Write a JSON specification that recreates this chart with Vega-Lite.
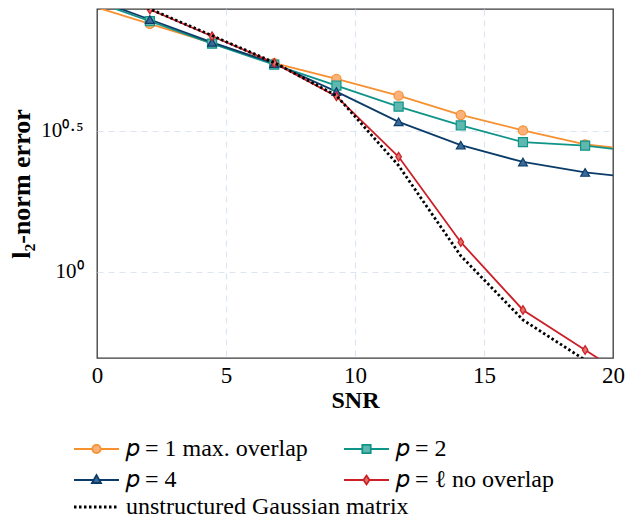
{
  "$schema": "https://vega.github.io/schema/vega-lite/v6.json",
  "width": 516,
  "height": 349,
  "autosize": "none",
  "padding": {"left": 97, "top": 9, "right": 24, "bottom": 161},
  "config": {
    "font": "Liberation Serif",
    "view": {"stroke": "#3a3a3a", "strokeWidth": 1.3},
    "axis": {
      "labelFont": "Liberation Serif",
      "labelColor": "#000",
      "titleFont": "Liberation Serif",
      "titleFontWeight": "bold",
      "titleColor": "#000",
      "ticks": false,
      "domain": false,
      "grid": true,
      "gridDash": [6, 5],
      "gridWidth": 1.2
    },
    "legend": {
      "labelFont": "Liberation Serif",
      "labelFontSize": 24,
      "labelColor": "#000",
      "labelLimit": 500,
      "padding": 0
    }
  },
  "data": {
    "values": [
      {"s": "𝑝 = 1 max. overlap", "x": -0.36, "y": 8.84},
      {"s": "𝑝 = 1 max. overlap", "x": 2.05, "y": 7.556},
      {"s": "𝑝 = 1 max. overlap", "x": 4.46, "y": 6.461},
      {"s": "𝑝 = 1 max. overlap", "x": 6.87, "y": 5.488},
      {"s": "𝑝 = 1 max. overlap", "x": 9.28, "y": 4.825},
      {"s": "𝑝 = 1 max. overlap", "x": 11.69, "y": 4.209},
      {"s": "𝑝 = 1 max. overlap", "x": 14.1, "y": 3.595},
      {"s": "𝑝 = 1 max. overlap", "x": 16.51, "y": 3.17},
      {"s": "𝑝 = 1 max. overlap", "x": 18.92, "y": 2.828},
      {"s": "𝑝 = 1 max. overlap", "x": 21.33, "y": 2.673},
      {"s": "𝑝 = 2", "x": -0.36, "y": 9.26},
      {"s": "𝑝 = 2", "x": 2.05, "y": 7.72},
      {"s": "𝑝 = 2", "x": 4.46, "y": 6.43},
      {"s": "𝑝 = 2", "x": 6.87, "y": 5.42},
      {"s": "𝑝 = 2", "x": 9.28, "y": 4.57},
      {"s": "𝑝 = 2", "x": 11.69, "y": 3.85},
      {"s": "𝑝 = 2", "x": 14.1, "y": 3.3},
      {"s": "𝑝 = 2", "x": 16.51, "y": 2.88},
      {"s": "𝑝 = 2", "x": 18.92, "y": 2.8},
      {"s": "𝑝 = 2", "x": 21.33, "y": 2.64},
      {"s": "𝑝 = 4", "x": -0.36, "y": 9.42},
      {"s": "𝑝 = 4", "x": 2.05, "y": 7.83},
      {"s": "𝑝 = 4", "x": 4.46, "y": 6.5},
      {"s": "𝑝 = 4", "x": 6.87, "y": 5.47},
      {"s": "𝑝 = 4", "x": 9.28, "y": 4.35},
      {"s": "𝑝 = 4", "x": 11.69, "y": 3.4},
      {"s": "𝑝 = 4", "x": 14.1, "y": 2.81},
      {"s": "𝑝 = 4", "x": 16.51, "y": 2.45},
      {"s": "𝑝 = 4", "x": 18.92, "y": 2.25},
      {"s": "𝑝 = 4", "x": 21.33, "y": 2.13},
      {"s": "𝑝 = ℓ no overlap", "x": -0.36, "y": 10.56},
      {"s": "𝑝 = ℓ no overlap", "x": 2.05, "y": 8.494},
      {"s": "𝑝 = ℓ no overlap", "x": 4.46, "y": 6.831},
      {"s": "𝑝 = ℓ no overlap", "x": 6.87, "y": 5.497},
      {"s": "𝑝 = ℓ no overlap", "x": 9.28, "y": 4.184},
      {"s": "𝑝 = ℓ no overlap", "x": 11.69, "y": 2.557},
      {"s": "𝑝 = ℓ no overlap", "x": 14.1, "y": 1.274},
      {"s": "𝑝 = ℓ no overlap", "x": 16.51, "y": 0.733},
      {"s": "𝑝 = ℓ no overlap", "x": 18.92, "y": 0.529},
      {"s": "𝑝 = ℓ no overlap", "x": 21.33, "y": 0.382},
      {"s": "unstructured Gaussian matrix", "x": -0.36, "y": 10.6},
      {"s": "unstructured Gaussian matrix", "x": 2.05, "y": 8.53},
      {"s": "unstructured Gaussian matrix", "x": 4.46, "y": 6.87},
      {"s": "unstructured Gaussian matrix", "x": 6.87, "y": 5.51},
      {"s": "unstructured Gaussian matrix", "x": 9.28, "y": 4.21},
      {"s": "unstructured Gaussian matrix", "x": 11.69, "y": 2.38},
      {"s": "unstructured Gaussian matrix", "x": 14.1, "y": 1.14},
      {"s": "unstructured Gaussian matrix", "x": 16.51, "y": 0.676},
      {"s": "unstructured Gaussian matrix", "x": 18.92, "y": 0.487},
      {"s": "unstructured Gaussian matrix", "x": 21.33, "y": 0.35}
    ]
  },
  "encoding": {
    "x": {
      "field": "x", "type": "quantitative",
      "scale": {"domain": [0, 20], "nice": false},
      "axis": {
        "values": [0, 5, 10, 15, 20], "title": "SNR", "titleFontSize": 24, "labelFontSize": 23, "labelPadding": 6, "titlePadding": 1, "labelFlush": false,
        "gridColor": {"condition": {"test": "datum.value == 0 || datum.value == 20", "value": "transparent"}, "value": "#dde4f2"}
      }
    },
    "y": {
      "field": "y", "type": "quantitative",
      "scale": {"type": "log", "domain": [0.4955, 8.53], "nice": false},
      "axis": {"values": [1, 3.16228], "labelExpr": "datum.value < 2 ? '10⁰' : '10⁰·⁵'", "labelFontSize": 21, "title": "l₂-norm error", "titleFontSize": 26, "labelPadding": 14, "titlePadding": 6, "gridColor": "#dde4f2"}
    }
  },
  "layer": [
    {
      "transform": [{"filter": "datum.s != 'unstructured Gaussian matrix'"}],
      "mark": {"type": "line", "clip": true, "strokeWidth": 1.8},
      "encoding": {
        "color": {
          "field": "s", "type": "nominal",
          "scale": {"domain": ["𝑝 = 1 max. overlap", "𝑝 = 4", "𝑝 = 2", "𝑝 = ℓ no overlap"], "range": ["#f7902f", "#0b3c69", "#0f9488", "#cc1f27"]},
          "legend": {
            "orient": "none", "legendX": -12.5, "legendY": 428, "columns": 2, "columnPadding": 31, "rowPadding": 7,
            "title": null, "labelOffset": 17.5, "symbolSize": 400,
            "encode": {
              "symbols": {
                "update": {
                  "shape": {"signal": "['M-2.25,0H-0.42M0.42,0H2.25M-0.42,0A0.42,0.42,0,1,1,0.42,0A0.42,0.42,0,1,1,-0.42,0Z','M-2.25,0H-0.28M0.28,0H2.25M-0.45,0.3L0,-0.5L0.45,0.3Z','M-2.25,0H-0.42M0.42,0H2.25M-0.42,-0.42H0.42V0.42H-0.42Z','M-2.25,0H-0.3M0.3,0H2.25M0,-0.45L0.3,0L0,0.45L-0.3,0Z'][datum.index]"},
                  "fill": {"signal": "['#fbb27a','#3b6a9a','#5fb8b0','#e0706a'][datum.index]"},
                  "stroke": {"signal": "['#f7902f','#0b3c69','#0f9488','#cc1f27'][datum.index]"},
                  "strokeWidth": {"value": 1.8},
                  "size": {"value": 400},
                  "opacity": {"value": 1},
                  "fillOpacity": {"value": 1}
                }
              }
            }
          }
        }
      }
    },
    {
      "transform": [
        {"filter": "datum.s != 'unstructured Gaussian matrix' && datum.x >= 0 && datum.x <= 20"},
        {"calculate": "datum.s", "as": "series"}
      ],
      "mark": {"type": "point", "clip": true, "strokeWidth": 1.2, "opacity": 1, "fillOpacity": 1},
      "encoding": {
        "shape": {"field": "series", "type": "nominal", "scale": {"domain": ["𝑝 = 1 max. overlap", "𝑝 = 2", "𝑝 = 4", "𝑝 = ℓ no overlap"], "range": ["circle", "square", "triangle-up", "M0,-1L0.65,0L0,1L-0.65,0Z"]}, "legend": null},
        "size": {"field": "series", "type": "nominal", "scale": {"domain": ["𝑝 = 1 max. overlap", "𝑝 = 2", "𝑝 = 4", "𝑝 = ℓ no overlap"], "range": [85, 75, 60, 90]}, "legend": null},
        "fill": {"field": "series", "type": "nominal", "scale": {"domain": ["𝑝 = 1 max. overlap", "𝑝 = 2", "𝑝 = 4", "𝑝 = ℓ no overlap"], "range": ["#fbb27a", "#5fb8b0", "#3b6a9a", "#e0706a"]}, "legend": null},
        "stroke": {"field": "series", "type": "nominal", "scale": {"domain": ["𝑝 = 1 max. overlap", "𝑝 = 2", "𝑝 = 4", "𝑝 = ℓ no overlap"], "range": ["#f7902f", "#0f9488", "#0b3c69", "#cc1f27"]}, "legend": null}
      }
    },
    {
      "transform": [{"filter": "datum.s == 'unstructured Gaussian matrix'"}],
      "mark": {"type": "line", "clip": true, "strokeWidth": 2.8, "color": "#000"},
      "encoding": {
        "strokeDash": {
          "field": "s", "type": "nominal",
          "scale": {"domain": ["unstructured Gaussian matrix"], "range": [[2.5, 2.5]]},
          "legend": {
            "orient": "none", "legendX": -12.5, "legendY": 486, "title": null, "labelOffset": 17.5, "symbolSize": 400,
            "symbolType": "M-2.25,0H2.25", "symbolStrokeColor": "#000", "symbolStrokeWidth": 2.8
          }
        }
      }
    }
  ]
}
